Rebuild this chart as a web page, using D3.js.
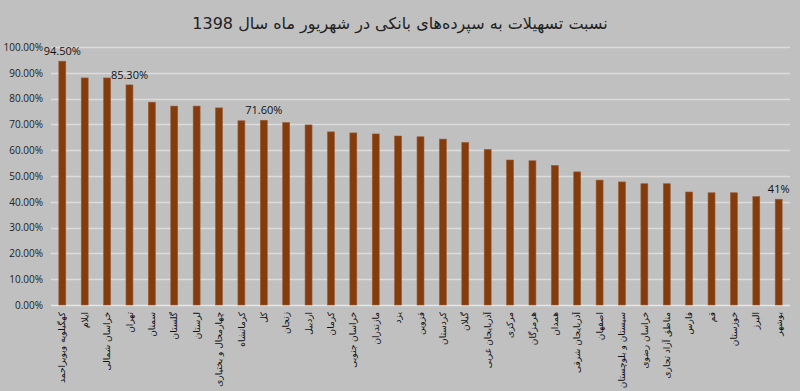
<!DOCTYPE html>
<html>
<head>
<meta charset="utf-8">
<script src="https://cdn.jsdelivr.net/npm/d3@7"></script>
<style>
  body { margin: 0; background: #c0c0c0; }
  svg { display: block; }
</style>
</head>
<body>
<svg id="chart" width="800" height="391"></svg>
<script>
// provinces, sorted as in the source chart
const provinces = [
  "کهگیلویه وبویراحمد", "ایلام", "خراسان شمالی", "تهران", "سمنان", "گلستان",
  "لرستان", "چهارمحال و بختیاری", "کرمانشاه", "کل", "زنجان", "اردبیل", "کرمان",
  "خراسان جنوبی", "مازندران", "یزد", "قزوین", "کردستان", "گیلان", "آذربایجان غربی",
  "مرکزی", "هرمزگان", "همدان", "آذربایجان شرقی", "اصفهان", "سیستان و بلوچستان",
  "خراسان رضوی", "مناطق آزاد تجاری", "فارس", "قم", "خوزستان", "البرز", "بوشهر"
];
// loan to deposit ratio (%)
const ratios = [
  94.5, 88.0, 88.0, 85.3, 78.6, 77.1, 77.1, 76.4, 71.4, 71.6, 70.7, 69.8, 67.1,
  66.7, 66.3, 65.5, 65.2, 64.3, 63.0, 60.3, 56.2, 55.9, 54.1, 51.6, 48.4, 47.7,
  47.0, 47.0, 43.8, 43.5, 43.5, 42.0, 41.0
];
// only a few bars carry a value label
const labelled = { 0: "94.50%", 3: "85.30%", 9: "71.60%", 32: "41%" };
const yTicks = [0, 10, 20, 30, 40, 50, 60, 70, 80, 90, 100];
const title = "نسبت تسهیلات به سپرده‌های بانکی در شهریور ماه سال 1398";

const margin = { top: 47, right: 10, bottom: 86, left: 51 };
const svg = d3.select("#chart");
const W = +svg.attr("width"), H = +svg.attr("height");

const x = d3.scaleBand()
  .domain(d3.range(provinces.length))
  .range([margin.left, W - margin.right])
  .paddingInner(0.69)
  .paddingOuter(0.35);

const y = d3.scaleLinear()
  .domain([0, 100])
  .range([H - margin.bottom, margin.top]);

svg.append("rect").attr("width", W).attr("height", H).attr("fill", "#c0c0c0");

// gridlines
svg.append("g")
  .selectAll("line")
  .data(yTicks)
  .join("line")
  .attr("x1", margin.left)
  .attr("x2", W - margin.right)
  .attr("y1", (d) => Math.round(y(d)) + 0.5)
  .attr("y2", (d) => Math.round(y(d)) + 0.5)
  .attr("stroke", (d) => (d === 0 ? "#e6e6e6" : "#dcdcdc"))
  .attr("stroke-width", (d) => (d === 0 ? 1.5 : 1.3));

// y axis labels
const yAxis = d3.axisLeft(y)
  .tickValues(yTicks)
  .tickSize(0)
  .tickPadding(8)
  .tickFormat((d) => d.toFixed(2) + "%");

svg.append("g")
  .attr("transform", `translate(${margin.left},0)`)
  .call(yAxis)
  .call((g) => g.select(".domain").remove())
  .selectAll("text")
  .attr("font-family", "'Open Sans', 'DejaVu Sans', sans-serif")
  .attr("font-size", 10)
  .attr("fill", "#222");

// bars
svg.append("g")
  .selectAll("rect")
  .data(ratios)
  .join("rect")
  .attr("x", (d, i) => x(i))
  .attr("width", x.bandwidth())
  .attr("y", (d) => y(d))
  .attr("height", (d) => y(0) - y(d))
  .attr("fill", "#843c0c")
  .attr("stroke", "#9a5a36")
  .attr("stroke-width", 0.6);

// value labels
svg.append("g")
  .selectAll("text")
  .data(Object.keys(labelled).map(Number))
  .join("text")
  .attr("x", (i) => x(i) + x.bandwidth() / 2)
  .attr("y", (i) => y(ratios[i]) - 6)
  .attr("text-anchor", "middle")
  .attr("font-family", "'Open Sans', 'DejaVu Sans', sans-serif")
  .attr("font-size", 11)
  .attr("fill", "#111")
  .text((i) => labelled[i]);

// category labels, rotated
svg.append("g")
  .selectAll("text")
  .data(provinces)
  .join("text")
  .attr("transform", (d, i) =>
    `translate(${x(i) + x.bandwidth() / 2},${y(0) + 7}) rotate(-90)`)
  .attr("text-anchor", "end")
  .attr("dy", "0.35em")
  .attr("font-family", "'DejaVu Sans', sans-serif")
  .attr("font-size", 9)
  .attr("fill", "#111")
  .text((d) => d);

// title
svg.append("text")
  .attr("x", W / 2)
  .attr("y", 29)
  .attr("text-anchor", "middle")
  .attr("font-family", "'DejaVu Sans', sans-serif")
  .attr("font-size", 16)
  .attr("fill", "#222")
  .text(title);
</script>
</body>
</html>
